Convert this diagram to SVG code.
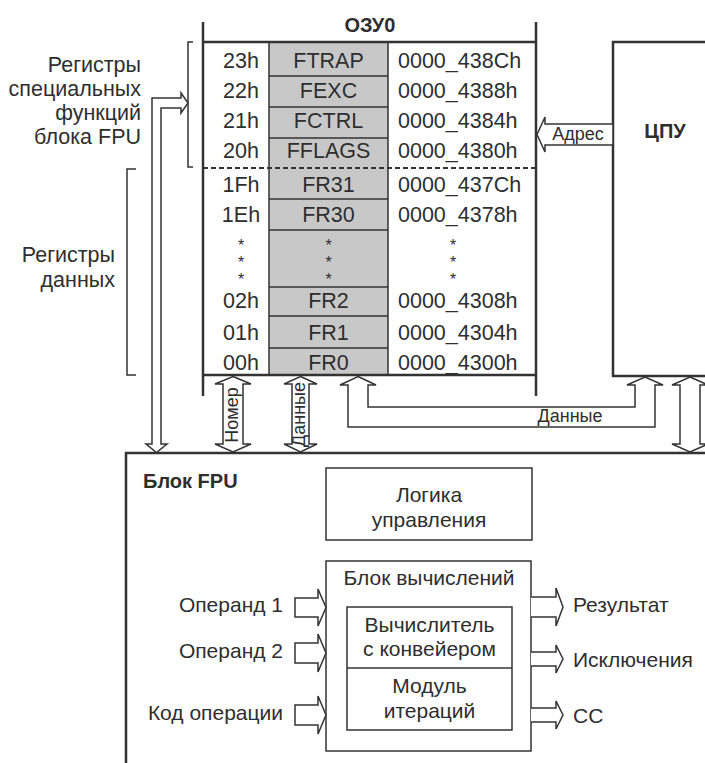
<svg xmlns="http://www.w3.org/2000/svg" width="705" height="763" viewBox="0 0 705 763">
<style>
text{font-family:"Liberation Sans",Arial,sans-serif;fill:#2e2e2e}
.t{font-size:21.5px}
.s{font-size:18px}
.f{font-size:21px}
.st{font-size:16px}
.b{font-weight:bold;font-size:20px}
.m{text-anchor:middle}
.e{text-anchor:end}
.ln{fill:none;stroke:#333;stroke-width:1.5}
.tk{fill:none;stroke:#333;stroke-width:2.5}
.arr{fill:#fff;stroke:#333;stroke-width:1.5;stroke-linejoin:miter}
.box{fill:#fff;stroke:#333;stroke-width:1.5}
</style>
<rect width="705" height="763" fill="#fff"/>

<g id="labels-left">
<text class="t e" x="141" y="72">Регистры</text>
<text class="t e" x="141" y="96">специальных</text>
<text class="t e" x="141" y="120">функций</text>
<text class="t e" x="141" y="144">блока FPU</text>
<path class="ln" d="M193,42 H188 V167 H193"/>
<text class="t e" x="115" y="262">Регистры</text>
<text class="t e" x="115" y="287">данных</text>
<path class="ln" d="M136,169 H127 V375 H136"/>
</g>

<g id="ozu0">
<rect x="269" y="42" width="119" height="333" fill="#c8c8c8"/>
<text class="b m" x="370" y="32">ОЗУ0</text>
<path class="ln" d="M269,42 V375 M388,42 V375 M269,76 H388 M269,107 H388 M269,138 H388 M269,199 H388 M269,230 H388 M269,287 H388 M269,316 H388 M269,348 H388"/>
<path class="tk" d="M203,42 H536" stroke-width="2"/>
<path d="M203,168 H536" fill="none" stroke="#333" stroke-width="2" stroke-dasharray="5 3"/>
<path class="tk" d="M203,375 H536"/>
<path class="tk" d="M203,22 V396 M536,22 V396"/>
<g class="t">
<text class="m" x="241" y="68">23h</text><text class="m" x="328.5" y="68">FTRAP</text><text x="398" y="68">0000_438Ch</text>
<text class="m" x="241" y="98">22h</text><text class="m" x="328.5" y="98">FEXC</text><text x="398" y="98">0000_4388h</text>
<text class="m" x="241" y="128">21h</text><text class="m" x="328.5" y="128">FCTRL</text><text x="398" y="128">0000_4384h</text>
<text class="m" x="241" y="158">20h</text><text class="m" x="328.5" y="158">FFLAGS</text><text x="398" y="158">0000_4380h</text>
<text class="m" x="241" y="192">1Fh</text><text class="m" x="328.5" y="192">FR31</text><text x="398" y="192">0000_437Ch</text>
<text class="m" x="241" y="222">1Eh</text><text class="m" x="328.5" y="222">FR30</text><text x="398" y="222">0000_4378h</text>
<text class="m" x="241" y="308">02h</text><text class="m" x="328.5" y="308">FR2</text><text x="398" y="308">0000_4308h</text>
<text class="m" x="241" y="340">01h</text><text class="m" x="328.5" y="340">FR1</text><text x="398" y="340">0000_4304h</text>
<text class="m" x="241" y="370">00h</text><text class="m" x="328.5" y="370">FR0</text><text x="398" y="370">0000_4300h</text>
</g>
<g class="st">
<text class="m" x="241" y="251">*</text><text class="m" x="241" y="268">*</text><text class="m" x="241" y="285">*</text>
<text class="m" x="328.5" y="251">*</text><text class="m" x="328.5" y="268">*</text><text class="m" x="328.5" y="285">*</text>
<text class="m" x="453" y="251">*</text><text class="m" x="453" y="268">*</text><text class="m" x="453" y="285">*</text>
</g>
</g>

<g id="cpu">
<path class="tk" d="M705,42 H613 V376 H705"/>
<text class="b m" x="665" y="138">ЦПУ</text>
</g>

<g id="fpu">
<path class="tk" d="M126,763 V453 H705"/>
<text class="b" x="143" y="488" font-size="21">Блок FPU</text>
</g>

<g id="logic">
<rect class="box" x="326" y="468" width="206" height="72"/>
<text class="f m" x="429" y="502">Логика</text>
<text class="f m" x="429" y="527">управления</text>
</g>

<g id="compute">
<rect class="box" x="326" y="561" width="205" height="190"/>
<text class="f m" x="429" y="585">Блок вычислений</text>
<rect class="box" x="347" y="607" width="165" height="123"/>
<path class="ln" d="M347,668 H512"/>
<text class="f m" x="429.5" y="632">Вычислитель</text>
<text class="f m" x="429.5" y="656">с конвейером</text>
<text class="f m" x="429.5" y="693">Модуль</text>
<text class="f m" x="429.5" y="718">итераций</text>
</g>

<g id="connectors">
<path class="arr" d="M188,103 L181,93 V98 H152 V444 H146 L156.5,452.5 L167,444 H161 V108 H181 V113 Z"/>
<path class="arr" d="M537,134.5 L545,117 V124 H613 V145 H545 V152 Z"/>
<text class="s m" x="578" y="140">Адрес</text>
<path class="arr" d="M233,376.5 L251,384 H243 V444 H251 L233,452 L215,444 H223 V384 H215 Z"/>
<text class="s m" transform="translate(237.5,415) rotate(-90)">Номер</text>
<path class="arr" d="M300.5,376.5 L317,384 H309 V444 H317 L300.5,452 L284,444 H292 V384 H284 Z"/>
<text class="s m" transform="translate(305,414.5) rotate(-90)">Данные</text>
<path class="arr" d="M358,376.5 L376,385 H368 V407 H635 V385 H627 L645,377 L663,385 H655 V427 H348 V385 H340 Z"/>
<text class="s m" x="570" y="422">Данные</text>
<path class="arr" d="M690,377 L708,385 H700 V444 H708 L690,452 L672,444 H680 V385 H672 Z"/>
<path class="arr" d="M295,598 H318 V589 L326,607.5 L318,626 V617 H295 Z"/>
<path class="arr" d="M295,643 H318 V634 L326,653 L318,672 V663 H295 Z"/>
<path class="arr" d="M295,705 H318 V696 L326,715 L318,734 V725 H295 Z"/>
<text class="f e" x="283" y="612">Операнд 1</text>
<text class="f e" x="283" y="658">Операнд 2</text>
<text class="f e" x="283" y="720">Код операции</text>
<path class="arr" d="M531,597 H556 V588 L563,607 L556,626 V617 H531"/>
<path class="arr" d="M531,652 H556 V645 L563,659 L556,673 V666 H531"/>
<path class="arr" d="M531,708 H556 V701 L563,715 L556,729 V722 H531"/>
<text class="f" x="573" y="612">Результат</text>
<text class="f" x="573" y="667">Исключения</text>
<text class="f" x="573" y="723">СС</text>
</g>
</svg>
